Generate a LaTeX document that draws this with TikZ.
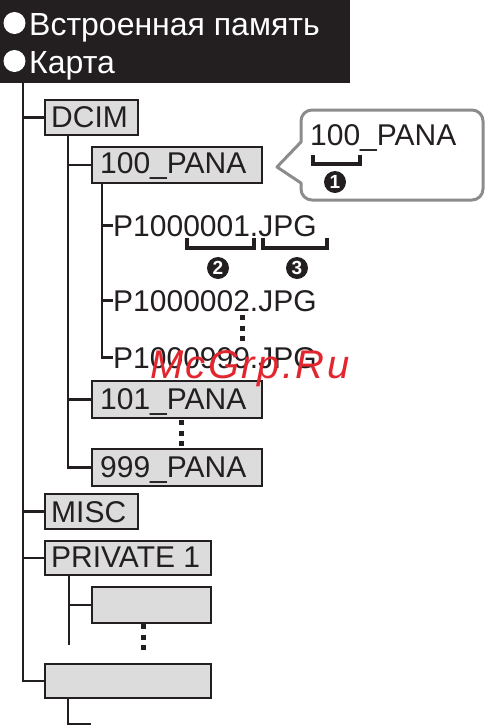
\documentclass[tikz,border=0pt]{standalone}
\usepackage{fontspec}
\setmainfont{Liberation Sans}
\newfontfamily\wmfont[LetterSpace=6]{Liberation Sans}
\definecolor{ink}{HTML}{231F20}
\definecolor{boxgray}{HTML}{DCDCDC}
\definecolor{callgray}{HTML}{8C8C8C}
\definecolor{wmred}{HTML}{E3262E}
\begin{document}
\begin{tikzpicture}[x=1pt,y=-1pt,
  box/.style={draw=ink,fill=boxgray,line width=2.2pt,inner sep=0pt,anchor=north west},
  lbl/.style={inner sep=0pt,anchor=base west,text=ink,font=\fontsize{30}{36}\selectfont},
  hdrtxt/.style={inner sep=0pt,anchor=base west,text=white,font=\fontsize{32}{38}\selectfont},
  tree/.style={draw=ink,line width=2.7pt},
  brk/.style={draw=ink,line width=3.2pt},
  dots/.style={draw=ink,line width=5pt,dash pattern=on 5pt off 5.5pt},
  num/.style={circle,fill=ink,inner sep=0pt,minimum size=22pt,text=white,font=\fontsize{19}{19}\selectfont\bfseries}]
\useasboundingbox (0,0) rectangle (487,726);
% header
\node[fill=ink,inner sep=0pt,minimum width=350pt,minimum height=83pt,anchor=north west] (hdr) at (0,0) {};
\node[circle,fill=white,inner sep=0pt,minimum size=22pt] (b1) at (14.5,23) {};
\node[circle,fill=white,inner sep=0pt,minimum size=22pt] (b2) at (14.5,61) {};
\node[hdrtxt] (h1) at (29,35) {Встроенная память};
\node[hdrtxt] (h2) at (29,73) {Карта};
% boxes
\node[box,minimum width=93pt,minimum height=35pt] (dcim) at (44,99) {};
\node[lbl] (tdcim) at (51,127) {DCIM};
\node[box,minimum width=170pt,minimum height=36pt] (p100) at (91,146) {};
\node[lbl] (tp100) at (100,173) {100\_PANA};
\node[box,minimum width=170pt,minimum height=37pt] (p101) at (91,380) {};
\node[lbl] (tp101) at (100,409) {101\_PANA};
\node[box,minimum width=170pt,minimum height=37pt] (p999) at (91,448) {};
\node[lbl] (tp999) at (100,477) {999\_PANA};
\node[box,minimum width=93pt,minimum height=35pt] (misc) at (44,493) {};
\node[lbl] (tmisc) at (51,522) {MISC};
\node[box,minimum width=166pt,minimum height=34pt] (priv) at (44,540) {};
\node[lbl] (tpriv) at (51,567) {PRIVATE 1};
\node[box,minimum width=119pt,minimum height=36pt] (e1) at (91,586) {};
\node[box,minimum width=166pt,minimum height=34pt] (e2) at (44,663) {};
% files
\node[lbl] (f1) at (113,236) {P1000001.JPG};
\node[lbl] (f2) at (113,311) {P1000002.JPG};
\node[lbl] (f3) at (113,368) {P1000999.JPG};
% tree lines
\coordinate (t0) at (23,83);
\draw[tree] (t0) |- (e2.west);
\draw[tree] (t0 |- dcim.west) -- (dcim.west);
\draw[tree] (t0 |- misc.west) -- (misc.west);
\draw[tree] (t0 |- priv.west) -- (priv.west);
\coordinate (sd) at (68,134);
\draw[tree] (sd) |- (p999.west);
\draw[tree] (sd |- p100.west) -- (p100.west);
\draw[tree] (sd |- p101.west) -- (p101.west);
\coordinate (s100) at (102,182);
\draw[tree] (s100) |- (f3.west);
\draw[tree] (s100 |- f1.west) -- (f1.west);
\draw[tree] (s100 |- f2.west) -- (f2.west);
\coordinate (sp) at (69,574);
\coordinate (spend) at (69,645);
\draw[tree] (sp) -- (spend);
\draw[tree] (sp |- e1.west) -- (e1.west);
\coordinate (se) at (68,697);
\coordinate (seend) at (91,724);
\draw[tree] (se) |- (seend);
% dotted continuations
\draw[dots] (242,315) -- (242,342);
\draw[dots] (181,420) -- (181,446);
\draw[dots] (143,624) -- (143,651);
% brackets and numbers
\draw[brk] (187,238) -- (187,248) -- (254,248) -- (254,238);
\draw[brk] (263,238) -- (263,248) -- (327,248) -- (327,238);
\node[num] (n2) at (218,268) {2};
\node[num] (n3) at (297,268) {3};
% callout
\draw[draw=callgray,line width=3pt,line join=round] (301,142) [rounded corners=11pt] -- (301,110) -- (483,110) -- (483,200) -- (301,200) [sharp corners] -- (301,183) -- (277,167) -- cycle;
\node[lbl] (tc) at (310,145) {100\_PANA};
\draw[brk] (313,155) -- (313,164) -- (360,164) -- (360,155);
\node[num] (n1) at (335,182) {1};
% watermark
\node[inner sep=0pt,anchor=base west,text=wmred,font=\wmfont\fontsize{40}{44}\selectfont\itshape] (wm) at (150,378) {McGrp.Ru};
\end{tikzpicture}
\end{document}
